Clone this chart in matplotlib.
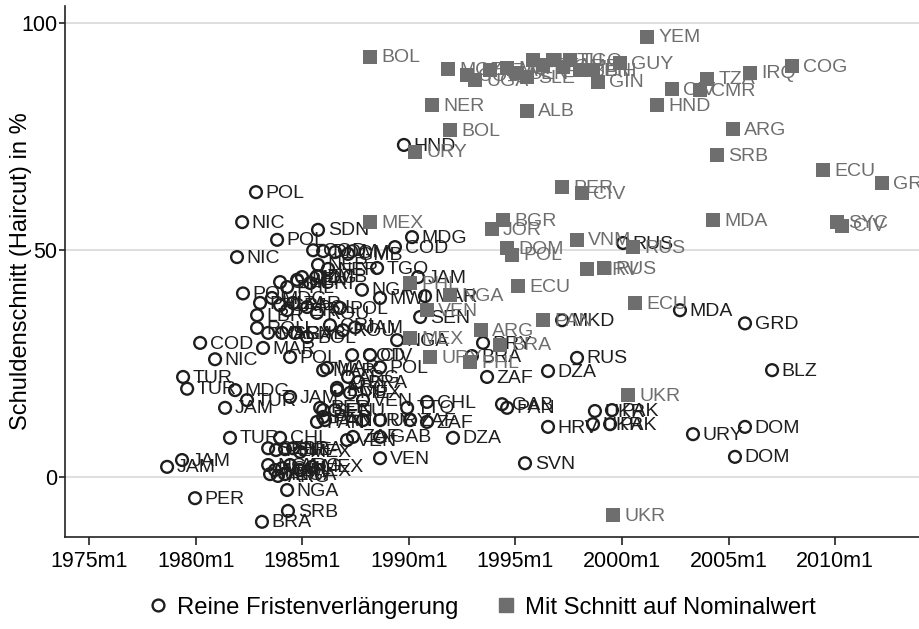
import matplotlib.pyplot as plt
from matplotlib.lines import Line2D

plt.rcParams['font.family'] = ['Liberation Sans', 'DejaVu Sans']

# Reine Fristenverlaengerung (hollow circles): year, haircut in %, country
circ_year = [1982.83, 1982.18, 1983.82, 1981.94, 1985.74, 1982.22, 1989.77, 1990.15, 1989.35, 1985.51,
             1985.98, 1986.54, 1987.15, 1985.74, 1988.51, 1990.43, 1987.80, 1988.65, 1990.76, 1990.53,
             1989.45, 1983.96, 1984.29, 1984.76, 1984.99, 1985.37, 1985.69, 1986.21, 1983.02, 1983.58,
             1983.96, 1984.29, 1984.57, 1985.23, 1985.69, 1986.77, 1982.88, 1982.88, 1983.40, 1984.05,
             1984.66, 1985.23, 1980.21, 1980.91, 1983.16, 1984.43, 1979.41, 1979.60, 1981.85, 1982.41,
             1981.38, 1984.43, 1985.98, 1985.98, 1985.98, 1986.63, 1981.61, 1983.96, 1978.66, 1979.36,
             1979.97, 1984.29, 1984.33, 1983.11, 1983.40, 1983.77, 1984.19, 1984.57, 1984.90, 1983.40,
             1983.72, 1984.05, 1984.43, 1984.90, 1983.49, 1983.86, 1984.19, 1985.46, 1987.34, 1988.18,
             1988.65, 1986.16, 1987.15, 1987.62, 1986.63, 1987.24, 1987.85, 1985.84, 1986.54, 1989.92,
             1990.85, 1985.69, 1986.07, 1987.85, 1988.65, 1990.06, 1990.85, 1987.38, 1988.65, 1992.07,
             1987.10, 1988.65, 1992.96, 1993.48, 1993.67, 1996.53, 1997.89, 1997.19, 2002.72, 1994.37,
             1994.61, 1996.53, 1995.45, 1998.73, 1999.53, 1998.64, 1999.44, 2003.33, 2005.77, 2005.30,
             2005.77, 2007.04, 2000.05, 1987.48, 1986.30, 1986.91]
circ_cut = [62.8, 56.2, 52.3, 48.5, 54.5, 40.5, 73.2, 52.9, 50.7, 50.0,
            49.8, 49.6, 49.2, 46.8, 46.1, 44.1, 41.3, 39.5, 39.9, 35.3,
            30.2, 43.0, 41.9, 43.5, 44.1, 42.8, 44.3, 45.9, 38.4, 39.5,
            37.9, 36.8, 38.4, 37.5, 36.2, 37.3, 35.7, 32.9, 31.8, 31.8,
            31.8, 30.9, 29.6, 26.0, 28.5, 26.5, 22.1, 19.5, 19.2, 17.0,
            15.3, 17.7, 23.6, 14.8, 13.3, 19.7, 8.7, 8.7, 2.3, 3.8,
            -4.6, -2.8, -7.4, -9.8, 6.4, 6.0, 6.2, 6.4, 5.6, 2.7,
            1.6, 2.0, 2.7, 1.6, 0.7, 0.3, 0.7, 2.3, 26.9, 26.9,
            24.2, 24.1, 22.1, 21.0, 19.2, 18.6, 17.0, 15.3, 14.8, 15.3,
            16.6, 12.2, 12.6, 12.6, 12.6, 12.6, 12.2, 8.9, 8.9, 8.7,
            8.2, 4.2, 26.7, 29.6, 22.1, 23.4, 26.3, 34.6, 36.8, 16.1,
            15.3, 11.1, 3.1, 14.6, 14.8, 11.7, 11.7, 9.5, 11.1, 4.5,
            33.9, 23.6, 51.6, 33.0, 33.5, 32.4]
circ_lab = ['POL', 'NIC', 'POL', 'NIC', 'SDN', 'POL', 'HND', 'MDG', 'COD', 'COD',
            'DOM', 'DOM', 'GMB', 'NER', 'TGO', 'JAM', 'NGA', 'MWI', 'MAR', 'SEN',
            'NGA', 'GMB', 'PHL', 'SEN', 'MDG', 'CRI', 'ZMB', 'NER', 'PHL', 'MDG',
            'CRI', 'PER', 'ZAR', 'POL', 'ROU', 'POL', 'LBR', 'ROU', 'MAR', 'SEN',
            'GAB', 'BOL', 'COD', 'NIC', 'MAR', 'POL', 'TUR', 'TUR', 'MDG', 'TUR',
            'JAM', 'JAM', 'MAR', 'SEN', 'PER', 'ARG', 'TUR', 'CHL', 'JAM', 'JAM',
            'PER', 'NGA', 'SRB', 'BRA', 'SEN', 'PER', 'SLE', 'BRA', 'MEX', 'NGA',
            'MAR', 'CHL', 'ARG', 'MEX', 'MEX', 'ARG', 'NGA', 'MEX', 'COD', 'CIV',
            'POL', 'MAR', 'ARG', 'BRA', 'ECU', 'MEX', 'VEN', 'PER', 'ECU', 'TTO',
            'CHL', 'PAN', 'PAN', 'URY', 'URY', 'ZAF', 'ZAF', 'ZAF', 'GAB', 'DZA',
            'VEN', 'VEN', 'BRA', 'PRY', 'ZAF', 'DZA', 'RUS', 'MKD', 'MDA', 'GAB',
            'PAN', 'HRV', 'SVN', 'UKR', 'PAK', 'UKR', 'PAK', 'URY', 'DOM', 'DOM',
            'GRD', 'BLZ', 'RUS', 'JAM', 'CRI', 'ROU']

# Mit Schnitt auf Nominalwert (filled squares)
sq_year = [1988.18, 1991.84, 1992.73, 1993.10, 1993.81, 1994.61, 1995.08, 1995.54, 1995.83, 1996.29,
           1996.76, 1997.23, 1997.56, 1998.03, 1998.64, 1999.91, 1998.87, 2001.17, 2001.64, 2002.35,
           2003.66, 2003.99, 2006.00, 2007.97, 1991.09, 1995.54, 1991.93, 1990.29, 2005.21, 2004.46,
           2009.43, 2012.20, 2004.27, 2010.08, 2010.32, 1997.19, 1998.12, 1988.18, 1994.42, 1993.90,
           1994.61, 1994.84, 1997.89, 2000.52, 1998.36, 1999.16, 1995.12, 2000.61, 1996.29, 1993.39,
           1994.28, 1990.99, 1992.87, 2000.28, 1999.58, 1990.06, 1990.85, 1990.06, 1991.93]
sq_cut = [92.6, 89.9, 88.6, 87.5, 89.7, 90.1, 89.0, 88.1, 91.9, 90.8,
          91.9, 90.4, 91.9, 89.7, 89.7, 91.2, 87.1, 97.0, 82.0, 85.5,
          85.3, 87.8, 89.1, 90.6, 82.0, 80.7, 76.5, 71.7, 76.7, 71.0,
          67.7, 64.8, 56.6, 56.2, 55.4, 63.9, 62.6, 56.2, 56.6, 54.7,
          50.5, 49.0, 52.3, 50.7, 45.9, 46.1, 42.1, 38.3, 34.6, 32.4,
          29.2, 26.5, 25.4, 18.1, -8.3, 30.6, 36.8, 42.8, 40.1]
sq_lab = ['BOL', 'MOZ', 'COG', 'UGA', 'TZA', 'MLI', 'SEN', 'SLE', 'NIC', 'BFA',
          'ETH', 'GMB', 'TGO', 'BEN', 'BIH', 'GUY', 'GIN', 'YEM', 'HND', 'CIV',
          'CMR', 'TZA', 'IRQ', 'COG', 'NER', 'ALB', 'BOL', 'URY', 'ARG', 'SRB',
          'ECU', 'GRC', 'MDA', 'SYC', 'CIV', 'PER', 'CIV', 'MEX', 'BGR', 'JOR',
          'DOM', 'POL', 'VNM', 'RUS', 'HRV', 'RUS', 'ECU', 'ECU', 'PAN', 'ARG',
          'BRA', 'URY', 'PHL', 'UKR', 'UKR', 'MEX', 'VEN', 'PHL', 'NGA']

xticks = [1975, 1980, 1985, 1990, 1995, 2000, 2005, 2010]
xtick_labels = ['1975m1', '1980m1', '1985m1', '1990m1', '1995m1', '2000m1', '2005m1', '2010m1']
yticks = [0, 50, 100]

circ_col = '#1e1e1e'
sq_col = '#6e6e6e'

fig = plt.figure(figsize=(9.2, 6.29), dpi=100)
ax = fig.add_axes([65/920, 92/629, 1 - 65/920, 531/629])

for y in yticks:
    ax.axhline(y, color='#dcdcdc', lw=1.3, zorder=0)

ax.scatter(circ_year, circ_cut, s=72, facecolors='none', edgecolors=circ_col, linewidths=1.7, zorder=2)
for x, y, t in zip(circ_year, circ_cut, circ_lab):
    ax.annotate(t, (x, y), xytext=(7, -0.8), textcoords='offset points', va='center', ha='left',
                fontsize=14, color=circ_col, zorder=3)

ax.scatter(sq_year, sq_cut, s=100, marker='s', color=sq_col, linewidths=0, zorder=4)
for x, y, t in zip(sq_year, sq_cut, sq_lab):
    ax.annotate(t, (x, y), xytext=(8, -0.8), textcoords='offset points', va='center', ha='left',
                fontsize=14, color=sq_col, zorder=5)

ax.set_xlim(1973.87, 2013.98)
ax.set_ylim(-13.15, 103.8)
ax.set_xticks(xticks)
ax.set_xticklabels(xtick_labels)
ax.set_yticks(yticks)
ax.tick_params(axis='x', labelsize=15.5, length=6, width=1.2, color='#222222', pad=4)
ax.tick_params(axis='y', labelsize=15.5, length=4, width=1.2, color='#222222', pad=1.5)
for s in ['top', 'right']:
    ax.spines[s].set_visible(False)
for s in ['left', 'bottom']:
    ax.spines[s].set_linewidth(1.2)
    ax.spines[s].set_color('#222222')
ax.set_ylabel('Schuldenschnitt (Haircut) in %', fontsize=17)
ax.yaxis.set_label_coords(-0.039, 0.5)

handles = [
    Line2D([], [], marker='o', ls='none', markersize=8.5, markerfacecolor='none',
           markeredgecolor=circ_col, markeredgewidth=1.7),
    Line2D([], [], marker='s', ls='none', markersize=10, color=sq_col),
]
fig.legend(handles, ['Reine Fristenverlängerung', 'Mit Schnitt auf Nominalwert'],
           loc='center', bbox_to_anchor=(0.523, 0.034), ncol=2, frameon=False,
           fontsize=17.2, handletextpad=0.3, columnspacing=1.5, handlelength=1.0)

fig.savefig('out.png', dpi=100)
